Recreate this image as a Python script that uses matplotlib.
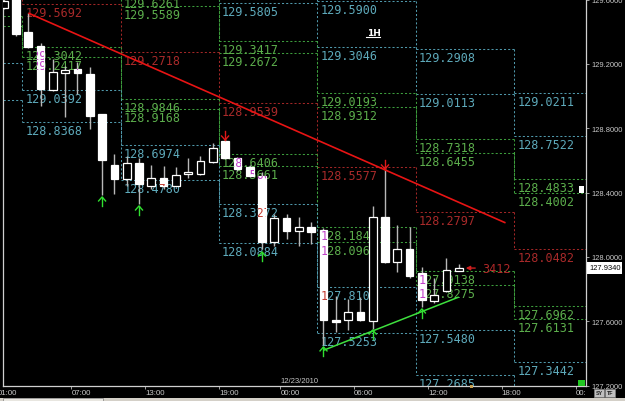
import matplotlib
matplotlib.use("Agg")
import matplotlib.pyplot as plt
from matplotlib.patches import Rectangle
from matplotlib.transforms import Bbox, blended_transform_factory, offset_copy

# ---------------- data ----------------
bar_idx = list(range(-1, 37))
opens  = [129.547, 129.620, 129.398, 129.311, 129.038, 129.143, 129.168, 129.137, 128.889, 128.572,
          128.485, 128.584, 128.441, 128.491, 128.441, 128.516, 128.516, 128.590, 128.721, 128.615,
          128.559, 128.503, 128.093, 128.242, 128.161, 128.186, 128.168, 127.608, 127.608, 127.658,
          127.602, 128.248, 127.969, 128.050, 127.900, 127.726, 127.789, 127.913]
highs  = [129.620, 129.640, 129.516, 129.330, 129.230, 129.187, 129.212, 129.181, 128.889, 128.640,
          128.628, 128.615, 128.572, 128.566, 128.559, 128.615, 128.628, 128.708, 128.733, 128.621,
          128.572, 128.528, 128.267, 128.267, 128.248, 128.217, 128.180, 127.758, 127.739, 127.751,
          128.317, 128.565, 128.199, 128.186, 127.938, 127.869, 127.994, 127.956]
lows   = [129.540, 129.373, 129.300, 128.938, 129.032, 128.870, 129.013, 128.795, 128.385, 128.391,
          128.441, 128.329, 128.423, 128.423, 128.441, 128.491, 128.510, 128.584, 128.609, 128.534,
          128.497, 128.050, 128.068, 128.112, 128.068, 128.081, 127.453, 127.534, 127.546, 127.600,
          127.552, 127.963, 127.907, 127.868, 127.689, 127.714, 127.782, 127.913]
closes = [129.591, 129.386, 129.305, 129.044, 129.150, 129.162, 129.143, 128.876, 128.603, 128.485,
          128.584, 128.454, 128.491, 128.441, 128.510, 128.528, 128.597, 128.677, 128.615, 128.547,
          128.503, 128.093, 128.242, 128.161, 128.186, 128.155, 127.608, 127.596, 127.658, 127.608,
          128.248, 127.969, 128.050, 127.882, 127.733, 127.764, 127.919, 127.934]

tick_pos    = [-1.5, 4.5, 10.5, 16.5, 21.5, 27.5, 33.5, 39.5, 45.5]
tick_labels = ["01:00", "07:00", "13:00", "19:00", "00:00", "06:00", "12:00", "18:00", "00:00"]
date_pos, date_label = 21.5, "12/23/2010"
price_ticks = [127.2, 127.6, 128.0, 128.4, 128.8, 129.2, 129.6]
current_price = 127.9340
timeframe = "1H"

# pivot-zone levels per 8-hour period
period_starts = [-7.5, 0.5, 8.5, 16.5, 24.5, 32.5, 40.5]
period_len = 8
ct2   = [130.600, 130.3016, 130.0649, 129.8193, 129.5900, 129.2908, 129.0211]
ct1   = [130.370, 130.0992, 129.8455, 129.5805, 129.3046, 129.0113, 128.7522]
gt2   = [130.140, 129.8967, 129.6261, 129.3417, 129.0193, 128.7318, 128.4833]
gt1   = [130.080, 129.8342, 129.5589, 129.2672, 128.9312, 128.6455, 128.4002]
pivot = [129.787, 129.5692, 129.2718, 128.9539, 128.5577, 128.2797, 128.0482]
gb1   = [129.497, 129.3042, 128.9846, 128.6406, 128.1842, 127.9138, 127.6962]
gb2   = [129.435, 129.2417, 128.9168, 128.5661, 128.0960, 127.8275, 127.6131]
cb1   = [129.205, 129.0392, 128.6974, 128.3272, 127.8107, 127.5480, 127.3442]
cb2   = [128.976, 128.8368, 128.4780, 128.0884, 127.5253, 127.2685, 127.0753]

# trend lines
red_trend_x, red_trend_y = [1, 39.8], [129.516, 128.212]
green_trend_x, green_trend_y = [25, 36], [127.420, 127.751]

# signal arrows (bar, tip price)
up_arrows   = [(7, 128.373), (10, 128.317), (20, 128.031), (25, 127.441), (29, 127.546), (33, 127.677)]
down_arrows = [(17, 128.727), (30, 128.547)]
tag_bar, tag_text = 36.34, "3412"

# ---------------- layout ----------------
W, H, DPI = 625, 402, 100
fig = plt.figure(figsize=(W / DPI, H / DPI), dpi=DPI, facecolor="black")
ax_l, ax_r, ax_t, ax_b = 2.7, 585.7, 0.0, 386.7
ax = fig.add_axes([ax_l / W, (H - ax_b) / H, (ax_r - ax_l) / W, (ax_b - ax_t) / H])
ax.set_facecolor("black")
bar0_px, bar_px, price_px = 16.0, 12.3, 160.9
xlo, xhi = (ax_l - bar0_px) / bar_px, (ax_r - bar0_px) / bar_px
ylo = 127.2
yhi = ylo + (ax_b - ax_t) / price_px
ax.set_xlim(xlo, xhi)
ax.set_ylim(ylo, yhi)
PX_X = 1.0 / bar_px
PX_Y = 1.0 / price_px

ax.spines["top"].set_visible(False)
for s in ["left", "right", "bottom"]:
    ax.spines[s].set_color("#d0d0d0")
    ax.spines[s].set_linewidth(0.9)

ax.yaxis.tick_right()
ax.set_yticks(price_ticks)
ax.set_yticklabels([f"{p:.4f}" for p in price_ticks])
ax.tick_params(axis="y", colors="#a0a0a0", labelcolor="#c8c8c8", labelsize=5.4, length=2.5, width=0.7, pad=1.5)
for t in ax.get_yticklabels():
    t.set_family("Liberation Sans")
ax.set_xticks([t for t in tick_pos if xlo <= t <= xhi])
ax.set_xticklabels([])
ax.tick_params(axis="x", colors="#a0a0a0", length=2, width=0.7)

clip = Bbox.from_extents(0, 0, ax_r + 0.5, H)
bt = blended_transform_factory(ax.transData, ax.transAxes)
lab_tr = offset_copy(bt, fig=fig, x=0, y=-3, units="dots")
for tp, tl in zip(tick_pos, tick_labels):
    t = ax.text(tp, 0, tl, transform=lab_tr, ha="left", va="top", fontsize=5.7,
                family="Liberation Sans", color="#c8c8c8", clip_on=True)
    t.set_clip_box(clip)
ax.text(date_pos, 0, date_label, transform=offset_copy(bt, fig=fig, x=0, y=2, units="dots"),
        ha="left", va="bottom", fontsize=5.5, family="Liberation Sans", color="#c8c8c8")

# ---------------- candle bodies (geometry used by overlays) ----------------
bw = 0.62
bodies = []
for i, o, h, l, c in zip(bar_idx, opens, highs, lows, closes):
    bodies.append((i - bw / 2, min(o, c), bw, max(abs(c - o), 1.5 * PX_Y), c < o))

# ---------------- pivot levels ----------------
line_col = {"c": "#4f98aa", "g": "#3c9c3c", "r": "#a02626"}
text_col = {"c": "#5eaabb", "g": "#5cae4c", "r": "#a82a2a"}
inv_col = {"c": "#c23a30", "g": "#c040c8", "r": "#40c8c8"}
level_sets = [(ct2, "c"), (ct1, "c"), (gt2, "g"), (gt1, "g"), (pivot, "r"),
              (gb1, "g"), (gb2, "g"), (cb1, "c"), (cb2, "c")]
lab_kw = dict(xytext=(3, -12), textcoords="offset pixels", ha="left", va="baseline",
              fontsize=8.5, family="DejaVu Sans Mono", annotation_clip=False)
for vals, key in level_sets:
    for k, s in enumerate(period_starts):
        e = s + period_len
        v = vals[k]
        ax.plot([s, e], [v, v], color=line_col[key], lw=0.75, ls=(0, (2, 2)), zorder=2)
        if k + 1 < len(vals):
            ax.plot([e, e], [v, vals[k + 1]], color=line_col[key], lw=0.75, ls=(0, (2, 2)), zorder=2)
        txt = f"{v:.4f}"
        ax.annotate(txt, xy=(s, v), color=text_col[key], clip_on=True, zorder=3, **lab_kw)
        # inverted (XOR-like) copy where the label crosses a filled candle body
        x0, x1 = s + 3 * PX_X, s + 60 * PX_X
        y0, y1 = v - 12 * PX_Y, v - 3 * PX_Y
        for bx, by, bwid, bh, filled in bodies:
            if filled and bx < x1 and bx + bwid > x0 and by < y1 and by + bh > y0:
                r = Rectangle((bx, by), bwid, bh, transform=ax.transData, facecolor="none", edgecolor="none")
                a = ax.annotate(txt, xy=(s, v), color=inv_col[key], zorder=6.5, **lab_kw)
                a.set_clip_path(r)

# ---------------- trend lines ----------------
ax.plot(red_trend_x, red_trend_y, color="#e81414", lw=1.2, zorder=7, solid_capstyle="butt")
ax.plot(green_trend_x, green_trend_y, color="#3ee03e", lw=1.1, zorder=7, solid_capstyle="butt")

# ---------------- candles ----------------
for (i, o, h, l, c), (bx, by, bwid, bh, filled) in zip(zip(bar_idx, opens, highs, lows, closes), bodies):
    ax.plot([i, i], [l, h], color="#b8b8b8", lw=1.0, zorder=5, solid_capstyle="butt")
    ax.add_patch(Rectangle((bx, by), bwid, bh, facecolor="white" if filled else "black",
                           edgecolor="white", lw=0.9, zorder=6))

# ---------------- arrows ----------------
def arrow(x, tip, color, up=True):
    sgn = -1 if up else 1
    ln = 9 * PX_Y
    ax.plot([x, x], [tip, tip + sgn * ln], color=color, lw=1.0, zorder=8)
    ax.plot([x - 3.5 * PX_X, x, x + 3.5 * PX_X], [tip + sgn * 4 * PX_Y, tip, tip + sgn * 4 * PX_Y],
            color=color, lw=1.0, zorder=8)

for b, p in up_arrows:
    arrow(b, p, "#30e030", up=True)
for b, p in down_arrows:
    arrow(b, p, "#e01818", up=False)

ax.annotate("", xy=(tag_bar, current_price - 0.003), xytext=(tag_bar + 15 * PX_X, current_price - 0.003),
            arrowprops=dict(arrowstyle="-|>", color="#d02020", lw=1.0, mutation_scale=6), zorder=8)
ax.text(tag_bar + 19 * PX_X, current_price - 0.003, tag_text, ha="left", va="center",
        fontsize=8.5, family="DejaVu Sans Mono", color="#b02828", zorder=8)

# ---------------- decorations ----------------
ax.text((367 - ax_l) / (ax_r - ax_l), 1 - 36 / ax_b, timeframe, transform=ax.transAxes, ha="left",
        va="baseline", fontsize=6.5, fontweight="bold", family="DejaVu Sans", color="white", zorder=9)
ax.plot([(366 - ax_l) / (ax_r - ax_l), (380 - ax_l) / (ax_r - ax_l)], [1 - 38 / ax_b] * 2,
        transform=ax.transAxes, color="white", lw=0.8, zorder=9)

# current price box
py = (H - ax_b) + (current_price - ylo) * price_px
fig.patches.append(Rectangle((587 / W, (py - 6) / H), 35 / W, 12 / H, transform=fig.transFigure,
                             facecolor="white", edgecolor="none", zorder=1))
fig.text(589 / W, py / H, f"{current_price:.4f}", ha="left", va="center", fontsize=5.4,
         family="Liberation Sans", color="black", zorder=2)

# small markers
fig.patches.append(Rectangle((578 / W, (H - 387) / H), 7 / W, 6 / H, transform=fig.transFigure,
                             facecolor="#22c822", edgecolor="none", zorder=3))
fig.patches.append(Rectangle((470 / W, (H - 389) / H), 3 / W, 3 / H, transform=fig.transFigure,
                             facecolor="#c8a050", edgecolor="none", zorder=3))
fig.patches.append(Rectangle((579 / W, (H - 194) / H), 5 / W, 7 / H, transform=fig.transFigure,
                             facecolor="white", edgecolor="none", zorder=3))
for bx, txt in [(594, "SY"), (605, "TF")]:
    fig.patches.append(Rectangle((bx / W, (H - 398) / H), 10 / W, 8 / H, transform=fig.transFigure,
                                 facecolor="#c0c0c0", edgecolor="#808080", lw=0.5, zorder=3))
    fig.text((bx + 5) / W, (H - 394) / H, txt, ha="center", va="center", fontsize=3.8,
             family="Liberation Sans", color="#202020", fontweight="bold", zorder=4)

# scrollbar strip
fig.patches.append(Rectangle((0, 0), 1, 3.5 / H, transform=fig.transFigure,
                             facecolor="#d4d0c8", edgecolor="none", zorder=3))
fig.patches.append(Rectangle((3 / W, 0), 100 / W, 3.5 / H, transform=fig.transFigure,
                             facecolor="#e8e6e0", edgecolor="#808080", lw=0.5, zorder=4))

fig.savefig("out.png", dpi=DPI, facecolor="black")
